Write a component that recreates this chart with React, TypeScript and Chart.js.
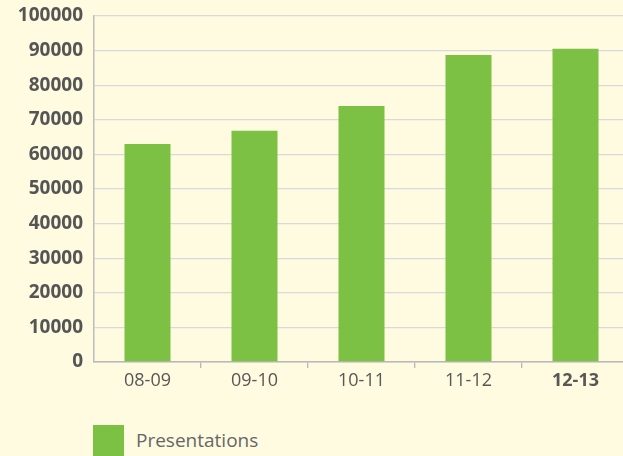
import React, { useEffect, useRef } from "react";
import { Chart, registerables } from "chart.js";

Chart.register(...registerables);

const categories = ["08-09", "09-10", "10-11", "11-12", "12-13"];
const presentations = [63000, 66800, 74000, 88700, 90500];
const seriesLabel = "Presentations";
const yMax = 100000;
const yStep = 10000;

const BG = "#FEFBE0";
const GREEN = "#7CC143";
const FONT = "'Open Sans', 'DejaVu Sans', sans-serif";

export default function App() {
  const ref = useRef<HTMLCanvasElement | null>(null);

  useEffect(() => {
    if (!ref.current) return;
    const chart = new Chart(ref.current, {
      type: "bar",
      data: {
        labels: categories,
        datasets: [
          {
            label: seriesLabel,
            data: presentations,
            backgroundColor: GREEN,
            borderWidth: 0,
            barPercentage: 0.86,
            categoryPercentage: 0.5,
          },
        ],
      },
      options: {
        animation: false,
        responsive: false,
        maintainAspectRatio: false,
        layout: { padding: { top: 16, left: 0, right: 0, bottom: 0 } },
        plugins: {
          legend: { display: false },
          tooltip: { enabled: false },
        },
        scales: {
          x: {
            grid: {
              display: true,
              drawOnChartArea: false,
              drawTicks: true,
              tickLength: 6,
              color: (ctx: any) => (ctx.index === 0 ? "rgba(0,0,0,0)" : "#b8b8b8"),
              lineWidth: 1.3,
            },
            border: { display: true, color: "#b8b8b8", width: 1.5 },
            ticks: {
              color: "#575757",
              padding: 2,
              font: (ctx: any) => ({
                family: FONT,
                size: 18,
                weight: ctx.index === 4 ? "bold" : "normal",
              }),
            },
            afterFit: (scale: any) => {
              scale.height = 38;
              scale.paddingLeft = 0;
              scale.paddingRight = 0;
            },
          },
          y: {
            min: 0,
            max: yMax,
            ticks: {
              stepSize: yStep,
              color: "#555555",
              padding: 11,
              font: { family: FONT, size: 19, weight: "bold" },
              callback: (v: any) => String(v),
            },
            grid: {
              drawTicks: false,
              color: "#d9d9d9",
              lineWidth: 1.3,
            },
            border: { display: true, color: "#bdbdbd", width: 1.5 },
            afterFit: (scale: any) => {
              scale.width = 94;
              scale.paddingTop = 0;
              scale.paddingBottom = 0;
            },
          },
        },
      },
    });
    return () => chart.destroy();
  }, []);

  return (
    <div
      style={{
        position: "fixed",
        left: 0,
        top: 0,
        width: 623,
        height: 456,
        overflow: "hidden",
        background: BG,
      }}
    >
      <div style={{ position: "absolute", left: 0, top: 0, width: 629, height: 400 }}>
        <canvas ref={ref} width={629} height={400} />
      </div>
      <div
        style={{
          position: "absolute",
          left: 93,
          top: 425,
          display: "flex",
          alignItems: "flex-start",
        }}
      >
        <div style={{ width: 31, height: 31, background: GREEN }} />
        <span
          style={{
            marginLeft: 12,
            marginTop: 2,
            fontFamily: FONT,
            fontSize: 19,
            color: "#666666",
            lineHeight: "26px",
          }}
        >
          {seriesLabel}
        </span>
      </div>
    </div>
  );
}
